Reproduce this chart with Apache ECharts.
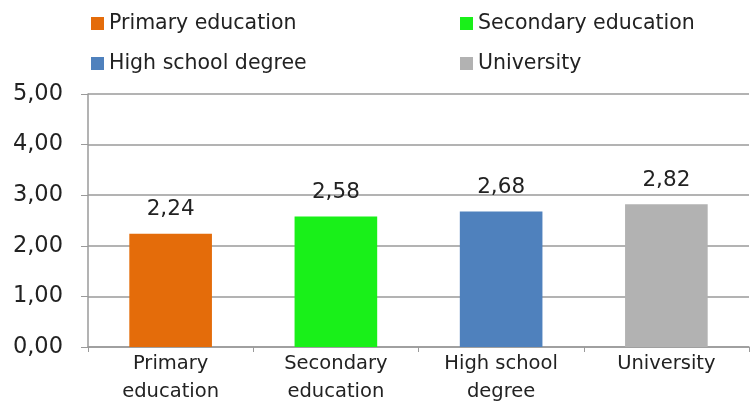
<!DOCTYPE html>
<html><head><meta charset="utf-8">
<script src="https://cdn.jsdelivr.net/npm/echarts@6/dist/echarts.min.js"></script>
<style>html,body{margin:0;padding:0;background:#fff}#c{width:750px;height:408px}</style>
</head><body><div id="c"></div>
<script>
var categories = ['Primary education', 'Secondary education', 'High school degree', 'University'];
var axisLabels = ['Primary\neducation', 'Secondary\neducation', 'High school\ndegree', 'University'];
var values = [2.24, 2.58, 2.68, 2.82];
var colors = ['#E46C0A', '#19F019', '#4F81BD', '#B2B2B2'];
var yMin = 0, yMax = 5, yStep = 1;

function fmt(v){ return Number(v).toFixed(2).replace('.', ','); }
var FONT = 'DejaVu Sans';
var series = categories.map(function(name, i){
  return {
    name: name, type: 'bar', stack: 'all', barWidth: '50%',
    itemStyle: {color: colors[i]},
    data: values.map(function(v, j){ return j === i ? v : '-'; }),
    label: {show: true, position: 'top', distance: 13, fontFamily: FONT, fontSize: 21.5, color: '#222',
      formatter: function(p){ return fmt(p.value); }}
  };
});
var legendPos = [[86, 8], [455, 8], [86, 48], [455, 48]];
var legends = categories.map(function(name, i){
  return {data: [name], left: legendPos[i][0], top: legendPos[i][1], icon: 'rect', itemWidth: 13, itemHeight: 13,
    textStyle: {fontFamily: FONT, fontSize: 20.5, color: '#222'}, selectedMode: false};
});
var chart = echarts.init(document.getElementById('c'), null, {renderer: 'canvas'});
chart.setOption({
  animation: false,
  legend: legends,
  grid: {left: 88, right: 1, top: 94, bottom: 61},
  xAxis: {type: 'category', data: axisLabels, boundaryGap: true,
    axisLine: {lineStyle: {color: '#9A9A9A', width: 1.5}},
    axisTick: {show: true, length: 5, lineStyle: {color: '#9A9A9A'}},
    axisLabel: {fontFamily: FONT, fontSize: 19.5, color: '#222', lineHeight: 28, margin: 3, interval: 0}},
  yAxis: {type: 'value', min: yMin, max: yMax, interval: yStep,
    axisLine: {show: true, lineStyle: {color: '#9A9A9A', width: 1.5}},
    axisTick: {show: true, length: 7, lineStyle: {color: '#9A9A9A'}},
    splitLine: {lineStyle: {color: '#9A9A9A', width: 1.5}},
    axisLabel: {fontFamily: FONT, fontSize: 22.5, color: '#222', margin: 25, formatter: fmt}},
  series: series
});
</script></body></html>
